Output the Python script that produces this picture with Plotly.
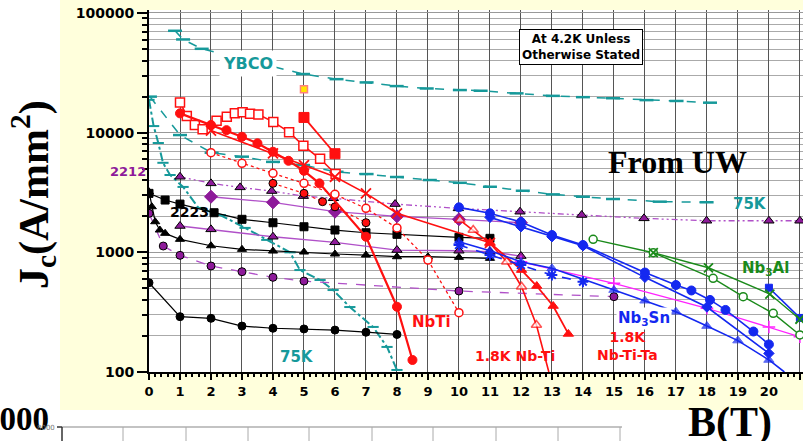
import plotly.graph_objects as go

# ---------------- data (B in tesla, Jc in A/mm2) ----------------
ybco_B = [0.84, 1.1, 1.7, 4.97, 6.05, 7.02, 7.99, 8.96, 10.03, 10.7, 11.86, 13.03, 14.0, 14.97, 16.05, 17.02, 18.1]
ybco_J = [71000, 60100, 50200, 30900, 28000, 26300, 24500, 23400, 22700, 22400, 21300, 20300, 19800, 19400, 18700, 18400, 17800]

ybco75_B = [0.03, 1.0, 2.02, 3.0, 4.0, 4.97, 6.05, 7.02, 8.0, 9.06, 10.03, 11.0, 12.06, 13.03, 14.0, 14.97, 16.48, 17.99]
ybco75_J = [20000, 9550, 6800, 6300, 5700, 5360, 4710, 4510, 4260, 4020, 3810, 3530, 3270, 3050, 2915, 2790, 2650, 2620]

bi75_B = [0.0, 0.15, 0.3, 0.45, 0.68, 1.1, 1.6, 2.3, 3.1, 3.8, 4.55, 4.87, 5.52, 5.94, 6.48, 7.23, 7.68, 8.0]
bi75_J = [18800, 11350, 8200, 5600, 4430, 3520, 2350, 2050, 1600, 1270, 1000, 711, 587, 484, 349, 238, 162, 104]

redsq_open_B = [1.0, 1.22, 1.48, 1.73, 2.18, 2.51, 2.77, 3.02, 3.26, 3.53, 4.01, 4.52, 4.98, 5.52, 6.02]
redsq_open_J = [17900, 13800, 11600, 10700, 12600, 13600, 14500, 14800, 14400, 14200, 12300, 10100, 7780, 6050, 4510]

nbti_B = [1.0, 2.0, 2.5, 3.0, 3.5, 4.0, 4.5, 5.0, 5.5, 7.0, 8.0, 8.5]
nbti_J = [14500, 11600, 10500, 9250, 8150, 6930, 5820, 4800, 3770, 1350, 351, 126]

redsq_fill_B = [5.0, 6.0]
redsq_fill_J = [13400, 6670]

yellow_B = [5.0]
yellow_J = [23100]

redx_B = [2.0, 4.0, 5.0, 6.0, 7.0, 8.0, 11.0]
redx_J = [10400, 6710, 5360, 4280, 3110, 2120, 1200]

nbtita18_B = [11.0, 12.02, 12.51, 13.04, 13.53]
nbtita18_J = [1200, 711, 523, 356, 208]

nbti18_B = [10.03, 10.46, 11.0, 11.54, 12.02, 12.5, 12.9]
nbti18_J = [1862, 1536, 1190, 834, 516, 247, 100]

redoc_B = [2.0, 3.0, 4.0, 5.0, 6.0, 7.0, 8.0, 9.0, 10.0]
redoc_J = [6800, 5540, 4570, 3770, 3050, 2330, 1600, 862, 313]

redbk_B = [4.0, 5.0, 5.6, 6.0, 7.0]
redbk_J = [3770, 3110, 2650, 2400, 1770]

p2212_B = [1.0, 2.0, 2.94, 3.96, 4.98, 5.95, 7.94, 9.98, 11.97, 13.96, 15.97, 17.99, 20.0, 21.0]
p2212_J = [4280, 3770, 3490, 3250, 2950, 2830, 2530, 2330, 2185, 2050, 1923, 1836, 1836, 1836]

pdia_B = [2.0, 4.0, 6.0, 8.0, 10.0, 12.0]
pdia_J = [2915, 2617, 2185, 2000, 1888, 1767]

ptri_B = [1.0, 2.0, 4.0, 6.0, 8.0, 10.0, 11.0, 12.0]
ptri_J = [1660, 1556, 1350, 1213, 1045, 1031, 1012, 931]

pcir_B = [0.0, 0.46, 1.0, 2.0, 3.0, 4.0, 5.0, 10.0, 15.0]
pcir_J = [2118, 1129, 944, 769, 689, 618, 575, 475, 426]

b2223_B = [0.0, 0.52, 1.0, 2.1, 3.0, 4.0, 5.0, 6.0, 7.0, 8.0, 10.0, 11.0]
b2223_J = [3110, 2735, 2530, 2143, 1888, 1767, 1636, 1536, 1458, 1414, 1334, 1309]

btri_B = [0.0, 0.09, 0.2, 0.35, 0.52, 1.0, 2.0, 3.0, 4.0, 5.0, 6.0, 7.0, 8.0, 9.0, 10.0, 11.0]
btri_J = [3210, 2405, 1802, 1536, 1441, 1284, 1135, 1059, 1025, 1006, 968, 949, 919, 919, 908, 891]

bcir_B = [0.0, 1.0, 2.0, 3.0, 4.0, 5.0, 6.0, 7.0, 8.0]
bcir_J = [557, 290, 281, 242, 232, 229, 224, 215, 206]

sn1_B = [10.0, 11.0, 12.0, 13.0, 14.0, 16.0, 17.0, 17.5, 18.1, 18.6, 19.5, 20.0]
sn1_J = [2376, 2118, 1791, 1395, 1151, 678, 533, 480, 400, 330, 218, 170]

sn2_B = [11.0, 12.0, 13.0, 14.0, 16.0, 18.0, 20.0]
sn2_J = [1960, 1636, 1350, 1135, 618, 349, 143]

sn3_B = [10.0, 11.0, 12.0, 13.0, 15.0, 16.0, 17.0, 18.0, 19.0, 20.0, 20.5]
sn3_J = [1227, 1031, 834, 735, 484, 394, 319, 242, 183, 126, 100]

sn4_B = [10.0, 11.0, 12.0, 13.0, 14.0]
sn4_J = [1151, 949, 783, 646, 568]

sn5_B = [20.0, 21.0]
sn5_J = [506, 283]

mag_B = [12.0, 15.0, 18.0, 20.0, 21.0]
mag_J = [834, 551, 341, 238, 197]

al_oc_B = [14.33, 16.27, 18.2, 19.17, 20.14, 21.0]
al_oc_J = [1284, 993, 606, 426, 309, 204]

al_x_B = [16.27, 18.05, 20.03, 21.0]
al_x_J = [993, 743, 448, 276]

x_ticks = list(range(0, 22))
y_ticks = [100, 1000, 10000, 100000]
y_minor = [m * 10 ** d for d in range(2, 5) for m in range(2, 10)]

# ---------------- styling ----------------
TEAL = "#16999A"
RED = "#FF1010"
PURP = "#8E1A9A"
PURPL = "#B050C8"
BLUE = "#1428F0"
GREEN = "#1A8A1A"
MAG = "#FF22FF"

W, H = 803, 441
L, R, T, B = 149, 0, 10, 69
PW, PH = W - L - R, H - T - B


def px(xp, yp):
    return (xp - L) / PW, (H - B - yp) / PH


fig = go.Figure()


def add(xs, ys, color, symbol, size=8, dash="solid", width=1.5, mfill=None, medge=None, mew=1, sizes=None):
    mk = dict(symbol=symbol, size=sizes if sizes else size, color=mfill if mfill else color,
              line=dict(color=medge if medge else color, width=mew))
    fig.add_trace(go.Scatter(x=xs, y=ys, mode="lines+markers",
                             line=dict(color=color, width=width, dash=dash),
                             marker=mk, showlegend=False, cliponaxis=True))


# teal (YBCO / Bi 75K)
add(ybco_B, ybco_J, TEAL, "line-ew-open", 10, "dash", 1.5, mew=2.5)
add(ybco75_B, ybco75_J, TEAL, "line-ew-open", 10, "dash", 1.5, mew=2.5)
add(bi75_B, bi75_J, TEAL, "line-ew-open", 8, "dashdot", 2, mew=2)

# purple / black (Bi-2212, Bi-2223)
add(pcir_B, pcir_J, PURPL, "circle", 8, "dash", 1.3, mfill=PURP, medge="black")
add(p2212_B, p2212_J, PURPL, "triangle-up", 9, "6px,3px,2px,3px,2px,3px", 1.3, mfill=PURP, medge="black")
add(pdia_B, pdia_J, PURPL, "diamond", 10, "solid", 1.3, mfill=PURP, medge=PURP)
add(ptri_B, ptri_J, PURPL, "triangle-up", 9, "solid", 1.3, mfill=PURP, medge="black")
add(b2223_B, b2223_J, "black", "square", 8, "solid", 1.2)
add(btri_B, btri_J, "black", "triangle-up", 8, "solid", 1.2)
add(bcir_B, bcir_J, "black", "circle", 8, "solid", 1.2)

# red (NbTi family)
add(redsq_open_B, redsq_open_J, RED, "square", 9, "solid", 1.6, mfill="white", medge=RED, mew=1.5)
add(redsq_fill_B, redsq_fill_J, RED, "square", 10, "solid", 1.8)
add(yellow_B, yellow_J, "#FF9090", "square", 7, "solid", 1, mfill="#FFE600", medge="#FF8080", mew=1.5)
add(redoc_B, redoc_J, RED, "circle", 8, "dot", 1.3, mfill="white", medge=RED, mew=1.5)
add(redbk_B, redbk_J, RED, "circle", 8, "dot", 1.2, mfill=RED, medge="black")
add(redx_B, redx_J, RED, "x-thin-open", 10, "solid", 1.6, mew=1.8)
add(nbti_B, nbti_J, RED, "circle", 9, "solid", 2.2)
add(nbti18_B, nbti18_J, RED, "triangle-up", 9, "solid", 1.6, mfill="white", medge=RED, mew=1.5,
    sizes=[9] * (len(nbti18_B) - 1) + [0])
add(nbtita18_B, nbtita18_J, RED, "triangle-up", 9, "solid", 1.8)

# blue (Nb3Sn), magenta, green (Nb3Al)
add(mag_B, mag_J, MAG, "cross-thin-open", 9, "solid", 1.3, mew=1.5)
add(sn4_B, sn4_J, BLUE, "asterisk-open", 9, "dash", 1.6, mew=2)
add(sn3_B, sn3_J, BLUE, "triangle-up", 9, "solid", 1.6, sizes=[9] * (len(sn3_B) - 1) + [0])
add(sn2_B, sn2_J, BLUE, "diamond", 8, "solid", 1.6)
add(sn1_B, sn1_J, BLUE, "circle", 9, "solid", 1.6)
add(sn5_B, sn5_J, BLUE, "square", 7, "solid", 1.6)
add(al_oc_B, al_oc_J, GREEN, "circle", 8, "solid", 1.4, mfill="white", medge=GREEN, mew=1.5)
add(al_x_B, al_x_J, GREEN, "x-thin-open", 9, "solid", 1.4, mew=1.8)

# ---------------- backgrounds / frames ----------------
YEL = "#FFFFDC"
shapes = []


def rect(x0, y0, x1, y1, fill, line=None, lw=0):
    a0, b0 = px(x0, y0)
    a1, b1 = px(x1, y1)
    shapes.append(dict(type="rect", xref="paper", yref="paper", x0=a0, y0=b0, x1=a1, y1=b1,
                       fillcolor=fill, line=dict(color=line or fill, width=lw), layer="below"))


def seg(x0, y0, x1, y1, color, w=1):
    a0, b0 = px(x0, y0)
    a1, b1 = px(x1, y1)
    shapes.append(dict(type="line", xref="paper", yref="paper", x0=a0, y0=b0, x1=a1, y1=b1,
                       line=dict(color=color, width=w), layer="above"))


rect(60, 0, 149, 410, YEL)
rect(149, 0, 803, 10, YEL)
rect(149, 372, 803, 410, YEL)

# fragment of a second chart frame at the bottom
seg(62, 427, 622, 427, "#888888", 1.2)
for xv in [123, 186, 248, 309, 372, 433, 496, 558, 620]:
    seg(xv, 427, xv, 441, "#AAAAAA", 1)
seg(62, 427, 62, 441, "#333333", 1.5)
seg(57, 427, 62, 427, "#333333", 1.5)

# ---------------- annotations ----------------
ann = []


def text(xp, yp, s, size, color="black", family="DejaVu Sans", bg=None, border=None, xanchor="center",
         angle=0, bw=0, pad=1):
    a, b = px(xp, yp)
    d = dict(x=a, y=b, xref="paper", yref="paper", text=s, showarrow=False, xanchor=xanchor, yanchor="middle",
             font=dict(size=size, color=color, family=family), textangle=angle, borderpad=pad)
    if bg:
        d["bgcolor"] = bg
    if border:
        d["bordercolor"] = border
        d["borderwidth"] = bw
    ann.append(d)


text(248, 64, "<b>YBCO</b>", 16, TEAL, bg="white", pad=3)
text(581, 47, "<b>At 4.2K Unless<br>Otherwise Stated</b>", 12, "black", bg="white", border="black", bw=1, pad=2)
text(677, 162, "<b>From UW</b>", 32, "black", family="Liberation Serif")
text(750, 204, "<b>75K</b>", 15, TEAL)
text(297, 357, "<b>75K</b>", 15, TEAL)
text(128, 171, "<b>2212</b>", 13, PURP)
text(189, 212, "<b>2223</b>", 14, "black")
text(431, 322, "<b>NbTi</b>", 15, RED)
text(515, 356, "<b>1.8K Nb-Ti</b>", 14, RED)
text(644, 318, "<b>Nb<sub>3</sub>Sn</b>", 15, BLUE, bg="white", pad=1)
text(627, 346, "<b>1.8K<br>Nb-Ti-Ta</b>", 14, RED)
text(765, 268, "<b>Nb<sub>3</sub>Al</b>", 15, GREEN)

# outer slide texts
text(33, 195, "<b>J<sub>c</sub>(A/mm<sup>2</sup>)</b>", 42, "black", family="Liberation Serif", angle=-90)
text(730, 423, "<b>B(T)</b>", 42, "black", family="Liberation Serif")
text(51, 419, "<b>1000</b>", 33, "black", family="Liberation Serif", xanchor="right")
text(46, 428, "8000", 7, "#777777")

fig.update_layout(
    width=W, height=H, margin=dict(l=L, r=R, t=T, b=B, pad=0),
    paper_bgcolor="white", plot_bgcolor="white",
    shapes=shapes, annotations=ann,
    xaxis=dict(range=[0, 21.1], tickvals=x_ticks, ticktext=[str(v) for v in x_ticks],
               showgrid=True, gridcolor="#555555", gridwidth=1, zeroline=False,
               showline=True, linecolor="black", linewidth=2, ticks="outside", ticklen=6,
               tickcolor="black", tickwidth=1.5,
               tickfont=dict(family="DejaVu Sans", size=13, color="black", weight="bold"),
               minor=dict(dtick=0.2, ticks="outside", ticklen=3, tickcolor="black", showgrid=False)),
    yaxis=dict(type="log", range=[2, 5.025], tickvals=y_ticks, ticktext=[str(v) for v in y_ticks],
               showgrid=True, gridcolor="#999999", gridwidth=1, zeroline=False,
               showline=True, linecolor="black", linewidth=2, ticks="outside", ticklen=10,
               tickcolor="black", tickwidth=1.5,
               tickfont=dict(family="DejaVu Sans", size=14, color="black", weight="bold"),
               minor=dict(tickvals=y_minor, ticks="outside", ticklen=5, tickcolor="black",
                          showgrid=True, gridcolor="#AAAAAA", gridwidth=1)),
)

fig.write_html("out.html", config={"displayModeBar": False},
               post_script="document.body.style.margin='0';document.body.style.overflow='hidden';")
